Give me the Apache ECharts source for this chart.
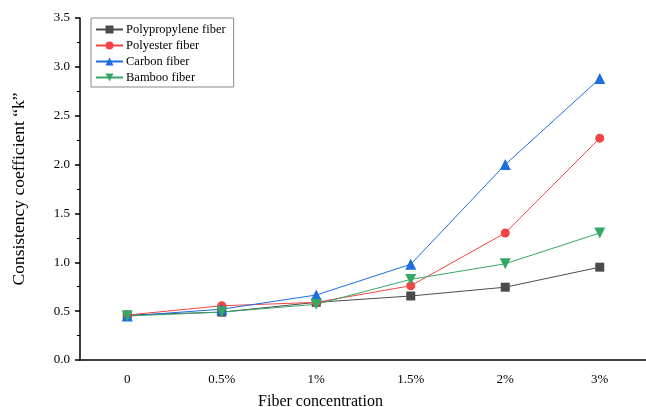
<!DOCTYPE html>
<html>
<head>
<meta charset="utf-8">
<script src="https://cdn.jsdelivr.net/npm/echarts@6/dist/echarts.min.js"></script>
<style>
  html, body { margin: 0; padding: 0; background: #fff; }
  #chart { width: 646px; height: 407px; }
</style>
</head>
<body>
<div id="chart"></div>
<script>
// data
const categories = ['0', '0.5%', '1%', '1.5%', '2%', '3%'];
const polypropylene = [0.46, 0.49, 0.59, 0.655, 0.745, 0.95];
const polyester = [0.46, 0.555, 0.59, 0.76, 1.30, 2.27];
const carbon = [0.45, 0.52, 0.665, 0.98, 2.0, 2.88];
const bamboo = [0.45, 0.49, 0.57, 0.825, 0.985, 1.30];

const font = '"Liberation Serif", "Times New Roman", serif';
const chart = echarts.init(document.getElementById('chart'));

function line(name, data, color, symbol, size, rotate) {
    return {
        name: name,
        type: 'line',
        data: data,
        symbol: symbol,
        symbolSize: size,
        symbolRotate: rotate || 0,
        lineStyle: { color: color, width: 1 },
        itemStyle: { color: color },
        z: 3
    };
}

const option = {
    animation: false,
    textStyle: { fontFamily: font },
    grid: {
        left: 80,
        right: -1,
        top: 18,
        bottom: 47,
        outerBoundsMode: 'none'
    },
    legend: {
        orient: 'vertical',
        left: 91,
        top: 18,
        borderColor: '#888',
        borderWidth: 1,
        borderRadius: 0,
        padding: [5, 8, 3, 4],
        itemWidth: 27,
        itemHeight: 10,
        itemGap: 3,
        textStyle: { fontFamily: font, fontSize: 12.5, color: '#000', padding: [0, 0, 0, -2] },
        data: ['Polypropylene fiber', 'Polyester fiber', 'Carbon fiber', 'Bamboo fiber']
    },
    xAxis: [
        {
            type: 'category',
            data: categories,
            boundaryGap: true,
            name: 'Fiber concentration',
            nameLocation: 'middle',
            nameGap: 34,
            nameTextStyle: { fontFamily: font, fontSize: 16, color: '#000', padding: [0, 86, 0, 0] },
            axisLine: { lineStyle: { color: '#000', width: 1.5 } },
            axisTick: { alignWithLabel: true, length: 5, lineStyle: { color: '#000', width: 1.5 } },
            axisLabel: { fontFamily: font, fontSize: 13, color: '#000', margin: 13 },
            splitLine: { show: false }
        },
        {
            type: 'category',
            data: categories,
            boundaryGap: true,
            position: 'bottom',
            axisLine: { show: false },
            axisTick: { interval: 0, length: 3, lineStyle: { color: '#000', width: 1 } },
            axisLabel: { show: false },
            splitLine: { show: false }
        }
    ],
    yAxis: {
        type: 'value',
        min: 0,
        max: 3.5,
        interval: 0.5,
        name: 'Consistency coefficient \u201ck\u201d',
        nameLocation: 'middle',
        nameGap: 52,
        nameTextStyle: { fontFamily: font, fontSize: 17.5, color: '#000' },
        axisLine: { show: true, lineStyle: { color: '#000', width: 1.5 } },
        axisTick: { show: true, length: 5, lineStyle: { color: '#000', width: 1.5 } },
        minorTick: { show: true, splitNumber: 2, length: 3, lineStyle: { color: '#000', width: 1 } },
        axisLabel: {
            fontFamily: font, fontSize: 13, color: '#000', margin: 10,
            formatter: function (v) { return v.toFixed(1); }
        },
        splitLine: { show: false }
    },
    series: [
        line('Polypropylene fiber', polypropylene, '#4b4b4b', 'rect', 9),
        line('Polyester fiber', polyester, '#f24444', 'circle', 9),
        line('Carbon fiber', carbon, '#1b6de0', 'triangle', 11),
        line('Bamboo fiber', bamboo, '#36a865', 'triangle', 11, 180)
    ]
};
chart.setOption(option);
</script>
</body>
</html>
